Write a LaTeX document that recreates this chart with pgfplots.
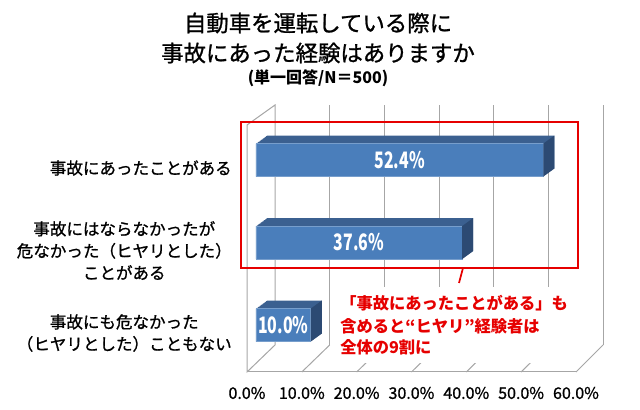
\documentclass[border=0pt]{standalone}
\usepackage{fontspec}
\setmainfont{Noto Sans CJK JP}[UprightFeatures={FakeBold=1.0}]
\usepackage{graphicx}
\usepackage{pgfplots}
\usepackage{pgfplotstable}
\pgfplotsset{compat=1.18}

\definecolor{barfront}{HTML}{4A7EBB}
\definecolor{bartop}{HTML}{3B6090}
\definecolor{barside}{HTML}{2C4A73}
\definecolor{wall}{HTML}{A6A6A6}
\definecolor{note}{HTML}{E60000}

% pos: 0 = bottom category
\pgfplotstableread{
pos v
0 10.0
1 37.6
2 52.4
}\answers

% right face of a 3D bar, drawn at the end of the bar
\pgfdeclareplotmark{sideface}{%
  \pgfsetfillcolor{barside}%
  \pgfpathmoveto{\pgfpoint{0pt}{-12.375pt}}%
  \pgfpathlineto{\pgfpoint{0pt}{12.375pt}}%
  \pgfpathlineto{\pgfpoint{8.25pt}{18.375pt}}%
  \pgfpathlineto{\pgfpoint{8.25pt}{-6.375pt}}%
  \pgfpathclose
  \pgfusepathqfill}

\begin{document}
\begin{tikzpicture}
\path[use as bounding box] (0,0) rectangle (480pt,307.5pt);

% title
\begin{scope}[x=0.75pt,y=0.75pt]
\node[font=\fontsize{16.8}{18}\selectfont] at (318,387) {自動車を運転している際に};
\node[font=\fontsize{16.8}{18}\selectfont] at (318,357) {事故にあった経験はありますか};
\node[font=\bfseries\fontsize{12}{14}\selectfont] at (318,332) {(単一回答/N＝500)};

% 3D frame: left wall, back wall grid, floor
\begin{scope}[draw=wall, line width=0.75pt]
\draw (247,38) -- (247,285) -- (275,305) -- (275,65) -- cycle;
\foreach \k in {1,...,6}
  \draw (275+54.67*\k,65) -- (275+54.67*\k,305);
\foreach \k in {1,...,6}
  \draw (247+54.83*\k,38) -- (275+54.67*\k,65);
\draw (247,38) -- (576,38);
\end{scope}
\end{scope}

\begin{axis}[
  at={(192pt,35.25pt)}, anchor=south west,
  scale only axis, width=246.75pt, height=183.75pt,
  xmin=0, xmax=60, ymin=-0.46, ymax=2.51,
  clip=false,
  axis line style={draw=none},
  major tick length=0pt,
  /pgf/number format/assume math mode=true,
  xtick={0,10,...,60},
  xticklabel={\pgfmathprintnumber[fixed,fixed zerofill,precision=1]{\tick}\%},
  xticklabel style={font=\fontsize{12}{14}\selectfont, anchor=center,
    xshift=-6.75pt, yshift=-22.5pt},
  ytick={0,1,2},
  yticklabels={{事故にも危なかった\\（ヒヤリとした）こともない},
    {事故にはならなかったが\\危なかった（ヒヤリとした）\\ことがある},
    {事故にあったことがある}},
  yticklabel style={font=\fontsize{12.4}{16.5}\selectfont, align=center,
    anchor=east, inner sep=0pt, xshift=-18pt, yshift=-6pt},
]
% depth of the bars: the bar swept back and up
\pgfplotsinvokeforeach{1,...,12}{
  \addplot[xbar, bar width=24.75pt, bar shift=0pt, fill=bartop, draw=none,
    xshift=#1*0.6875pt, yshift=#1*0.5pt] table[x=v, y=pos] {\answers};
}
\addplot[only marks, mark=sideface] table[x=v, y=pos] {\answers};
% front faces
\addplot[xbar, bar width=24.75pt, bar shift=0pt, fill=barfront,
  draw=barfront!75!white, line width=0.6pt] table[x=v, y=pos] {\answers};
% value labels in the middle of each bar
\addplot[only marks, mark=*, mark size=0pt, mark options={draw=none, fill=none},
  point meta=explicit,
  nodes near coords={\scalebox{0.7}[1]{\pgfmathprintnumber[fixed,fixed zerofill,precision=1]{\pgfplotspointmeta}\%}},
  every node near coord/.style={anchor=center, text=white,
    font=\bfseries\fontsize{17}{18}\selectfont}]
  table[x expr=\thisrow{v}/2, y=pos, meta=v] {\answers};
\end{axis}

% red callout
\begin{scope}[x=0.75pt,y=0.75pt]
\fill[white] (336,47) rectangle (566,123);
\draw[note, line width=1.8pt] (241,142) rectangle (578,288);
\draw[note, line width=1.3pt] (463,142) -- (459,127);
\begin{scope}[font=\bfseries\fontsize{12.2}{14}\selectfont, text=note, anchor=west, inner sep=0pt]
\node at (340,107) {「事故にあったことがある」も};
\node at (340,84) {含めると“ヒヤリ”経験者は};
\node at (340,63) {全体の9割に};
\end{scope}
\end{scope}
\end{tikzpicture}
\end{document}
